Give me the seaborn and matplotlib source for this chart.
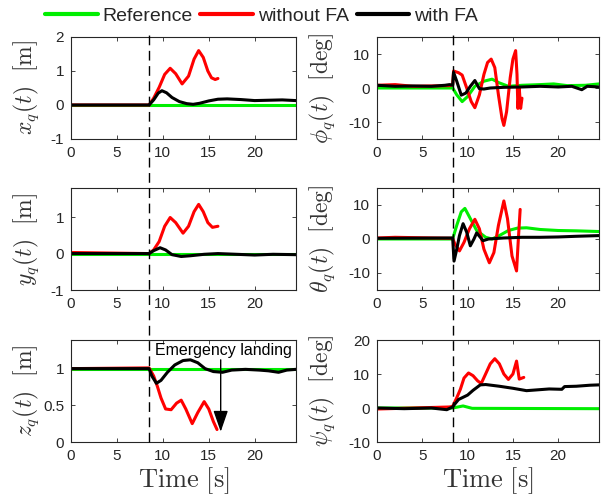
import numpy as np
import pandas as pd
import matplotlib
matplotlib.use("Agg")
import matplotlib.pyplot as plt
from matplotlib.lines import Line2D
import seaborn as sns

# ---------------- data ----------------
# x_q(t) [m]
t_x_ref = [0, 24.5]
x_ref = [0, 0]
t_x_wo = [0, 8.5, 9.0, 9.6, 10.2, 10.8, 11.4, 12.1, 12.8, 13.4, 13.9, 14.4, 14.9, 15.3, 15.7, 16.0]
x_wo = [0, 0, 0.2, 0.52, 0.9, 1.08, 0.92, 0.62, 0.85, 1.35, 1.6, 1.4, 1.0, 0.8, 0.75, 0.78]
t_x_fa = [0, 8.5, 9.0, 9.5, 9.9, 10.4, 11.0, 11.8, 12.6, 13.3, 14.0, 15.0, 16.0, 17.0, 18.5, 20.0, 21.5, 23.0, 24.5]
x_fa = [0, 0, 0.15, 0.35, 0.42, 0.36, 0.22, 0.1, 0.04, 0.02, 0.05, 0.12, 0.17, 0.18, 0.16, 0.13, 0.14, 0.15, 0.13]

# y_q(t) [m]
t_y_ref = [0, 24.5]
y_ref = [0, 0]
t_y_wo = [0, 8.5, 9.0, 9.6, 10.2, 10.8, 11.4, 12.2, 12.8, 13.4, 13.9, 14.4, 14.9, 15.4, 16.0]
y_wo = [0.03, 0, 0.1, 0.33, 0.75, 0.99, 0.85, 0.56, 0.75, 1.15, 1.35, 1.15, 0.85, 0.72, 0.75]
t_y_fa = [0, 8.5, 9.0, 9.7, 10.3, 11.0, 12.0, 13.0, 14.5, 16.0, 18.0, 20.0, 22.0, 24.5]
y_fa = [0, 0, 0.08, 0.16, 0.1, -0.03, -0.08, -0.06, -0.02, 0.0, -0.02, -0.04, -0.02, -0.03]

# z_q(t) [m]
t_z_ref = [0, 24.5]
z_ref = [1, 1]
t_z_wo = [0, 8.5, 9.0, 9.4, 9.8, 10.3, 10.9, 11.5, 12.0, 12.5, 13.2, 13.8, 14.5, 15.0, 15.5, 15.9]
z_wo = [1.0, 1.01, 0.9, 0.76, 0.6, 0.45, 0.44, 0.53, 0.57, 0.45, 0.25, 0.4, 0.55, 0.45, 0.28, 0.17]
t_z_fa = [0, 8.5, 8.8, 9.3, 9.8, 10.5, 11.3, 12.2, 13.0, 13.8, 14.6, 15.5, 16.5, 17.5, 19.0, 20.5, 21.5, 22.6, 23.5, 24.5]
z_fa = [1.0, 1.0, 0.9, 0.8, 0.84, 0.95, 1.05, 1.11, 1.12, 1.08, 1.0, 0.96, 0.95, 0.98, 0.99, 0.98, 0.97, 0.95, 0.98, 0.99]

# phi_q(t) [deg]
t_phi_ref = [0, 8.35, 8.8, 9.4, 10.0, 10.8, 11.8, 12.7, 13.5, 14.5, 16.0, 18.0, 19.5, 21.0, 23.0, 24.5]
phi_ref = [0, 0, -2, -4, -2.5, 0.5, 2.0, 2.6, 1.5, 0.5, 0.8, 1.0, 1.2, 0.7, 0.8, 1.2]
t_phi_wo = [0, 2, 4, 6, 8.0, 8.35, 8.45, 9.0, 9.4, 9.9, 10.4, 10.8, 11.3, 11.8, 12.2, 12.6, 13.0, 13.4,
            13.8, 14.0, 14.3, 14.7, 15.0, 15.3, 15.45, 15.55, 15.7, 15.85, 16.0]
phi_wo = [0.8, 1.0, 0.5, 0.6, 0.7, 1, 5, 4.5, 3.8, 0, -4, -5.8, -2, 4, 7.5, 8.5, 6, -2,
          -9, -11, -7, 3, 8.5, 11, 4, -6, 0, -6, -3]
t_phi_fa = [0, 2, 4, 6, 7.5, 8.0, 8.35, 8.45, 8.8, 9.3, 9.8, 10.3, 10.8, 11.3, 11.8, 12.5, 14, 16, 18,
            20, 21.5, 22.6, 23.2, 24.5]
phi_fa = [0.8, 0.5, 0.6, 0.5, 0.8, 1.0, 0.8, 4.6, 2, -2.1, -1.5, 0.5, 2.2, -0.2, -0.3, 0, 0.2, 0.3, 0.5,
          0.3, 0.5, -0.5, 0.5, 0.3]

# theta_q(t) [deg]
t_th_ref = [0, 8.35, 8.8, 9.3, 9.7, 10.2, 11.0, 12.0, 12.7, 13.5, 14.5, 15.5, 16.5, 18, 20, 22, 24.5]
th_ref = [0, 0, 4, 8, 9, 6.5, 2.5, 0.5, 0, 1, 2.5, 3.2, 3.3, 2.8, 2.5, 2.4, 2.2]
t_th_wo = [0, 2, 8.35, 8.6, 9.1, 9.6, 10.2, 10.8, 11.3, 11.8, 12.4, 12.9, 13.4, 14.0, 14.4, 14.9, 15.4,
           15.6, 15.8]
th_wo = [0.3, 0.5, 0.2, -1.5, -3.5, -1, 3, 5.8, 3, -3, -7, -4, 4, 11.2, 6, -5, -9.4, 0, 8.7]
t_th_fa = [0, 8.35, 8.5, 8.8, 9.1, 9.5, 9.9, 10.3, 10.7, 11.0, 11.4, 11.7, 12.3, 14, 16, 18, 20, 22, 24.5]
th_fa = [0.2, 0.3, -6.5, -3, 1, 4.5, 2, -2, 0, 1.8, 0.5, -0.5, 0, 0.3, 0.5, 0.5, 0.6, 0.8, 1.0]

# psi_q(t) [deg]
t_psi_ref = [0, 8.35, 9.5, 10.5, 24.5]
psi_ref = [0, 0, 0.6, -0.1, -0.2]
t_psi_wo = [0, 4, 8.0, 8.35, 8.8, 9.2, 9.6, 10.1, 10.6, 11.1, 11.5, 11.9, 12.5, 13.0, 13.5, 14.0, 14.5,
            15.0, 15.4, 15.7, 16.2]
psi_wo = [-0.3, 0, 0.3, 0.5, 3, 5.5, 8.8, 10.3, 9.5, 8, 7.2, 9.5, 13, 14.5, 13, 10, 8.4,
          10, 13.8, 8.5, 9]
t_psi_fa = [0, 3, 6, 7.7, 8.35, 8.6, 9.0, 10.0, 10.6, 11.4, 12.0, 13.5, 15.0, 16.5, 17.5, 19, 20.4, 20.7,
            22, 23.5, 24.5]
psi_fa = [0, -0.2, 0, -0.5, 0.3, 1.2, 2.5, 3.8, 5.2, 6.8, 6.9, 6.4, 5.8, 5.1, 5.3, 5.6, 5.5, 6.3,
          6.4, 6.7, 6.8]

series_names = ["Reference", "without FA", "with FA"]
series_colors = ["#00ee00", "#ff0000", "#000000"]

panels = [
    (r"$x_q(t)\ \ [\mathrm{m}]$", (-1, 2), [-1, 0, 1, 2],
     [(t_x_ref, x_ref), (t_x_wo, x_wo), (t_x_fa, x_fa)]),
    (r"$\phi_q(t)\ \ [\mathrm{deg}]$", (-15, 15), [-10, 0, 10],
     [(t_phi_ref, phi_ref), (t_phi_wo, phi_wo), (t_phi_fa, phi_fa)]),
    (r"$y_q(t)\ \ [\mathrm{m}]$", (-1, 1.8), [-1, 0, 1],
     [(t_y_ref, y_ref), (t_y_wo, y_wo), (t_y_fa, y_fa)]),
    (r"$\theta_q(t)\ \ [\mathrm{deg}]$", (-15, 15), [-10, 0, 10],
     [(t_th_ref, th_ref), (t_th_wo, th_wo), (t_th_fa, th_fa)]),
    (r"$z_q(t)\ \ [\mathrm{m}]$", (0, 1.39), [0, 0.5, 1],
     [(t_z_ref, z_ref), (t_z_wo, z_wo), (t_z_fa, z_fa)]),
    (r"$\psi_q(t)\ \ [\mathrm{deg}]$", (-10, 20), [-10, 0, 10, 20],
     [(t_psi_ref, psi_ref), (t_psi_wo, psi_wo), (t_psi_fa, psi_fa)]),
]

fault_time = [8.5, 8.35]   # left column, right column
x_max = 24.5
xticks = [0, 5, 10, 15, 20]

# ---------------- style ----------------
sns.set_style("ticks")
plt.rcParams["font.family"] = ["Liberation Sans", "DejaVu Sans"]
plt.rcParams["mathtext.fontset"] = "cm"
plt.rcParams["axes.edgecolor"] = "#262626"
plt.rcParams["axes.linewidth"] = 0.8

fig = plt.figure(figsize=(6.01, 5.04), dpi=100)

col_left = [71 / 601, 377 / 601]
col_width = [225 / 601, 222 / 601]
row_bottom = [1 - 139 / 504, 1 - 290 / 504, 1 - 442 / 504]
row_height = 102 / 504

axes = []
for i, (ylabel, ylim, yticks, data) in enumerate(panels):
    r, c = divmod(i, 2)
    ax = fig.add_axes([col_left[c], row_bottom[r], col_width[c], row_height])
    for (t, v), name, color in zip(data, series_names, series_colors):
        df = pd.DataFrame({"t": t, "v": v})
        sns.lineplot(data=df, x="t", y="v", ax=ax, color=color, lw=2.2,
                     label=name, sort=False, estimator=None)
    ax.set_xlim(0, x_max)
    ax.set_ylim(*ylim)
    ax.set_xticks(xticks)
    ax.set_yticks(yticks)
    ax.set_yticklabels([f"{v:g}" for v in yticks])
    ax.set_ylabel(ylabel, fontsize=17, color="#333333")
    ax.set_xlabel("")
    ax.tick_params(direction="in", length=3, width=0.6, top=True, right=True,
                   labelsize=11, colors="#262626", pad=5)
    for s in ax.spines.values():
        s.set_visible(True)
    ax.get_legend().remove()
    axes.append(ax)

for ax in axes[4:]:
    ax.set_xlabel(r"$\mathrm{Time}\ [\mathrm{s}]$", fontsize=19, color="#333333", labelpad=2)

# ylabel positions per column
for c in range(2):
    for r in range(3):
        axes[r * 2 + c].yaxis.set_label_coords(-0.135 if c == 0 else -0.18, 0.5)

# Emergency landing annotation
axz = axes[4]
axz.annotate("", xy=(16.3, 0.14), xytext=(16.3, 1.12),
             arrowprops=dict(arrowstyle="-|>,head_length=1.3,head_width=0.45",
                             color="black", lw=1.0, shrinkA=0, shrinkB=0, mutation_scale=10))
axz.text(16.6, 1.25, "Emergency landing", ha="center", va="center", fontsize=11.5, color="black")

# dashed fault lines spanning each column
inv = fig.transFigure.inverted()
for c in range(2):
    top_ax = axes[c]
    bot_ax = axes[4 + c]
    x_fig = inv.transform(top_ax.transData.transform((fault_time[c], 0)))[0]
    y_top = top_ax.get_position().y1 + 0.004
    y_bot = bot_ax.get_position().y0
    fig.add_artist(Line2D([x_fig, x_fig], [y_bot, y_top], transform=fig.transFigure,
                          color="black", lw=1.0, linestyle=(0, (7, 4)), zorder=5))

# legend
handles = [Line2D([0], [0], color=col, lw=3) for col in series_colors]
fig.legend(handles, series_names, loc="center", bbox_to_anchor=(0.435, 0.968), ncol=3,
           frameon=False, fontsize=14, handlelength=2.7, handletextpad=0.25, columnspacing=0.4,
           borderaxespad=0)

fig.savefig("out.png", dpi=100)
